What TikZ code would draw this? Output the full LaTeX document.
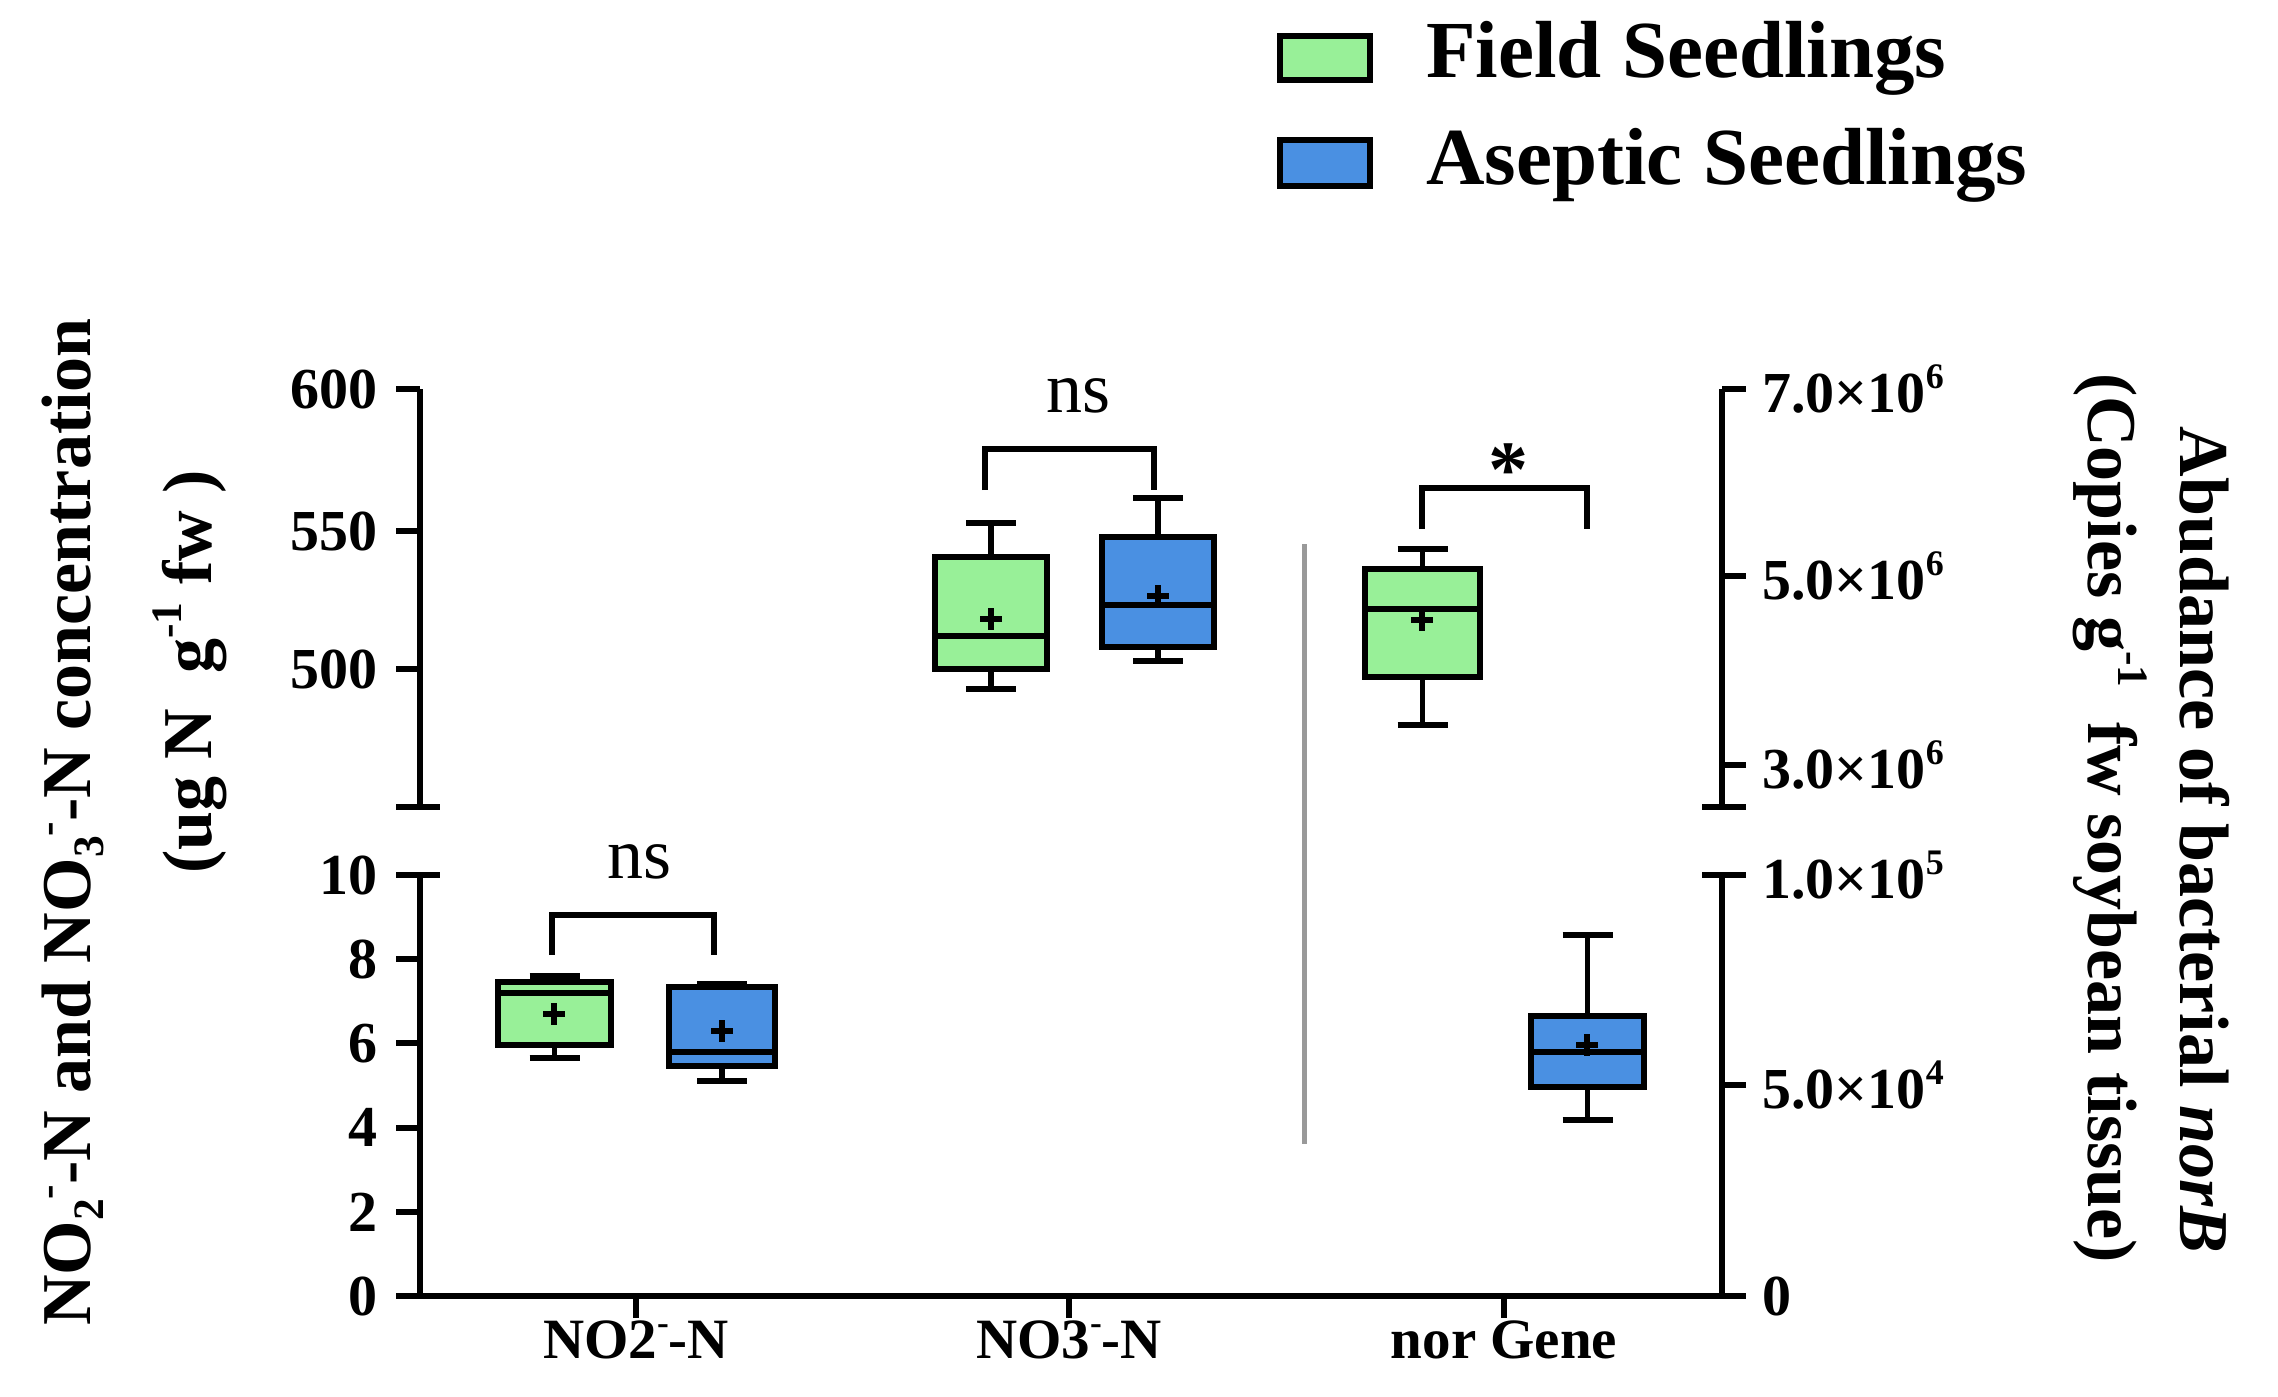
\documentclass[tikz,border=0pt]{standalone}
\usepackage{fontspec}
\setmainfont{Liberation Serif}
\newcommand{\myup}[1]{\raisebox{0.42em}{\scalebox{0.62}{#1}}}
\newcommand{\mydn}[1]{\raisebox{-0.18em}{\scalebox{0.62}{#1}}}
\begin{document}
\begin{tikzpicture}[x=1pt,y=-1pt,line width=6pt,
  ax/.style={line width=6pt,line cap=butt},
  gbox/.style={draw,fill=fieldg,line width=5.5pt},
  bbox/.style={draw,fill=asepb,line width=5.5pt},
  tl/.style={font=\fontsize{58}{64}\selectfont\bfseries},
  cl/.style={font=\fontsize{57}{64}\selectfont\bfseries},
  al/.style={font=\fontsize{70}{76}\selectfont\bfseries},
  ns/.style={font=\fontsize{72}{76}\selectfont}]
\definecolor{fieldg}{RGB}{152,240,152}
\definecolor{asepb}{RGB}{74,144,226}
\useasboundingbox (0,0) rectangle (2278,1397);
% legend
\node[gbox,minimum width=90pt,minimum height=44pt,inner sep=0pt] (lg) at (1325,58) {};
\node[bbox,minimum width=90pt,minimum height=46pt,inner sep=0pt] (lb) at (1325,163) {};
\node[anchor=west,font=\fontsize{81}{86}\selectfont\bfseries] (tg) at (1420,58) {Field Seedlings};
\node[anchor=west,font=\fontsize{81}{86}\selectfont\bfseries] (tb) at (1420,165) {Aseptic Seedlings};
% axes
\draw[ax] (420,389) -- (420,807);
\draw[ax] (420,875) -- (420,1296) -- (1722,1296) -- (1722,875);
\draw[ax] (1722,807) -- (1722,389);
\foreach \y/\t in {389/600,531/550,669/500}{\draw[ax] (396,\y)--(420,\y); \node[tl,anchor=east] at (384,\y) {\t};}
\draw[ax] (396,807)--(440,807);
\draw[ax] (396,875)--(440,875);
\foreach \v in {0,2,4,6,8,10}{\pgfmathsetmacro{\yy}{1296-42.1*\v}\draw[ax] (396,\yy)--(420,\yy); \node[tl,anchor=east] at (384,\yy) {\v};}
\foreach \y/\e/\m in {389/6/7.0,576/6/5.0,765/6/3.0,875/5/1.0,1085/4/5.0}{\draw[ax] (1722,\y)--(1746,\y); \node[tl,anchor=west] at (1756,\y) {\m×10\myup{\e}};}
\draw[ax] (1702,807)--(1746,807);
\draw[ax] (1702,875)--(1746,875);
\draw[ax] (1722,1296)--(1746,1296); \node[tl,anchor=west] at (1756,1296) {0};
\foreach \x in {636,1069,1504}{\draw[ax] (\x,1296)--(\x,1318);}
\node[cl] (c1) at (636,1340) {NO2\myup{-}-N};
\node[cl] (c2) at (1069,1340) {NO3\myup{-}-N};
\node[cl] (c3) at (1504,1340) {nor Gene};
% axis titles
\node[al,rotate=90] (yl1) at (73,822) {NO\mydn{2}\myup{-}-N and NO\mydn{3}\myup{-}-N concentration};
\node[al,rotate=90] (yl2) at (190,672) {(ug N\ \ g\myup{-1} fw )};
\node[al,rotate=-90] (yr1) at (2205,840) {Abudance of bacterial \textit{norB}};
\node[al,rotate=-90] (yr2) at (2110,818) {(Copies g\myup{-1}\ \ fw soybean tissue)};
% gray separator
\draw[gray!80,line width=5pt] (1304,544) -- (1304,1144);
\newcommand{\bp}[9]{%
 \pgfmathsetmacro{\xm}{(#2+#3)/2}
 \draw[line width=5.5pt] (\xm,#4)--(\xm,#9) (\xm-25,#4)--(\xm+25,#4) (\xm-25,#9)--(\xm+25,#9);
 \draw[#1] (#2,#5) rectangle (#3,#7);
 \draw[line width=5.5pt] (#2,#6)--(#3,#6);
}
\newcommand{\mn}[2]{\draw[line width=6pt] (#1-11,#2)--(#1+11,#2) (#1,#2-11)--(#1,#2+11);}
\bp{gbox}{498}{611}{1058}{1045}{993}{982}{0}{976}
\mn{554}{1014}
\bp{bbox}{669}{775}{1081}{1066}{1052}{987}{0}{984}
\mn{722}{1031}
\bp{gbox}{935}{1047}{689}{669}{636}{557}{0}{523}
\mn{991}{619}
\bp{bbox}{1102}{1214}{661}{647}{605}{537}{0}{498}
\mn{1158}{596}
\bp{gbox}{1365}{1480}{725}{677}{609}{569}{0}{549}
\mn{1422}{620}
\bp{bbox}{1531}{1644}{1120}{1087}{1052}{1016}{0}{935}
\mn{1587}{1045}
% brackets
\draw[line width=5.5pt] (552,955)--(552,915)--(714,915)--(714,955);
\node[ns] (n1) at (640,862) {ns};
\draw[line width=5.5pt] (985,490)--(985,449)--(1154,449)--(1154,490);
\node[ns] (n2) at (1078,396) {ns};
\draw[line width=5.5pt] (1422,529)--(1422,488)--(1587,488)--(1587,529);
\node[font=\fontsize{80}{80}\selectfont\bfseries] (st) at (1508,470) {*};
\end{tikzpicture}
\end{document}
